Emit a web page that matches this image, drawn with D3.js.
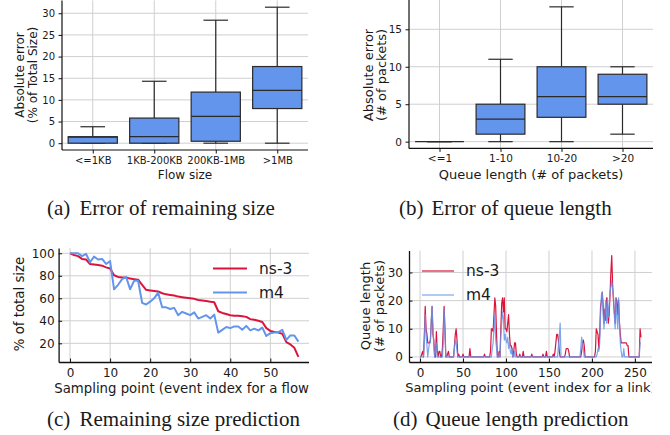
<!DOCTYPE html>
<html><head><meta charset="utf-8">
<script src="https://cdn.jsdelivr.net/npm/d3@7"></script>
<style>
body{margin:0;background:#fff;}
svg{display:block;}
text{font-family:"DejaVu Sans",sans-serif;fill:#1a1a1a;}
.cap{font-family:"Liberation Serif","DejaVu Serif",serif;}
</style></head><body>
<svg id="chart" width="670" height="435"></svg>
<script>
// ---------- DATA ----------
const catsA = ["<=1KB","1KB-200KB","200KB-1MB",">1MB"];
const lowA  = [0, 0, 0, 0];
const q1A   = [0, 0, 0.45, 8.0];
const medA  = [1.4, 1.5, 6.2, 12.2];
const q3A   = [1.5, 5.8, 11.8, 17.7];
const highA = [3.8, 14.3, 28.4, 31.4];
const yTicksA = [0,5,10,15,20,25,30];

const catsB = ["<=1","1-10","10-20",">20"];
const lowB  = [0, 0, 0, 1];
const q1B   = [0, 1, 3.25, 5];
const medB  = [0, 3, 6, 6];
const q3B   = [0, 5, 10, 9];
const highB = [0, 11, 18, 10];
const yTicksB = [0,5,10,15];

const ns3Remain = [100,98.5,97.5,95,94.5,90.5,90,89.5,89,87.5,86.5,80.5,79,78.5,78.5,77.5,77,76.5,72,67.5,
  67,66.5,66,64.5,63.5,63,62.5,61.5,61,60.5,60,59.5,58.5,58,57.5,57,56.5,48.5,47,46,
  45,44.5,44.5,44,43.5,41.5,41,40,39,33.5,31,30,29.5,28.5,21,19,16,8];
const m4Remain = [100,100,100,97.5,99.5,92,97,94.5,95,90.5,93,68,72,77,79,68,75.5,75.5,56,54.5,
  57,60,65,52,52,50.5,51.5,45,48,46.5,45,47.5,42,43.5,45,42,45.5,29.5,32,34.5,
  33.5,35,35,32,35.5,31.5,33,31.5,34,26.5,29,29.5,30,32,23,27,27,21.5];
const xTicksC = [0,10,20,30,40,50];
const yTicksC = [20,40,60,80,100];

const ns3Queue = [0,0,1,2,0,8,18,10,8,5, 5,5,6,12,18,8,6,0,0,9, 2,0,2,2,0,0,3,10,18,10,
  0,0,1,2,0,0,0,0,0,0, 4,8,10,6,0,1,0,0,0,0, 1,0,0,0,0,0,0,0,3,0,
  0,0,0,0,0,0,0,0,0,0, 0,0,0,0,0,1,0,0,0,0, 0,0,2,10,10,9,15,21,18,8,
  0,0,2,0,10,19,21,16,21,10, 10,9,12,15,8,4,4,3,0,2, 5,5,1,0,0,0,1,0,0,0,
  2,0,0,0,0,0,0,0,0,0, 1,0,0,0,0,0,0,0,0,0, 0,0,0,1,0,0,0,2,0,0,
  0,0,0,0,0,1,0,2,5,8, 8,6,2,0,0,0,0,0,0,1, 3,3,3,2,0,0,0,0,0,0,
  0,0,0,0,0,0,0,0,2,5, 6,4,0,0,0,0,0,0,0,0, 0,0,0,0,2,10,9,8,3,8,
  18,20,23,18,12,17,13,21,18,12, 15,22,30,36,26,20,16,12,21,20, 15,20,12,8,5,5,5,5,5,5,
  5,4,4,0,0,0,0,0,0,0, 0,0,0,0,0,0,10,7];
const m4Queue = [0,0,0,0,0,5,15,8,4,0, 3,5,5,13,18,10,4,0,2,5, 0,0,0,0,0,0,0,5,17,8,
  0,0,0,0,0,0,0,0,0,0, 3,6,5,2,0,0,0,0,0,0, 0,0,0,0,0,0,0,0,0,0,
  0,0,0,0,0,0,0,0,0,0, 0,0,0,0,0,0,0,0,0,0, 0,0,0,0,3,5,10,15,6,3,
  0,0,1,0,8,12,16,14,6,8, 6,5,7,3,5,2,1,3,0,0, 2,0,0,0,0,0,0,0,0,0,
  0,0,0,0,0,0,0,0,0,0, 0,0,0,0,0,0,0,0,0,0, 0,0,0,0,0,0,0,0,0,0,
  0,0,0,0,0,0,0,0,0,0, 0,4,7,12,0,0,0,0,0,0, 0,0,0,0,0,0,0,0,0,0,
  0,0,0,0,0,0,0,3,7,5, 3,0,0,0,0,0,0,0,0,0, 0,0,0,0,0,0,1,3,2,5,
  15,22,23,15,10,15,20,12,21,14, 18,23,25,27,24,22,15,10,21,14, 10,21,12,5,2,0,0,3,0,0,
  0,0,0,0,0,0,0,0,0,0, 0,0,0,0,0,0,5,5];
const xTicksD = [0,50,100,150,200,250];
const yTicksD = [0,10,20,30];

const captions = ["(a)","Error of remaining size","(b)","Error of queue length",
                  "(c)","Remaining size prediction","(d)","Queue length prediction"];

// ---------- DRAW ----------
const svg = d3.select("#chart");
const RED = "#DC143C", BLUE = "#6495ED", GRID = "#cfcfcf", EDGE = "#2a2a2a";

function boxPanel(o){
  const g = svg.append("g");
  const x = d3.scaleLinear().domain([0.5, 4.5]).range([o.x0, o.x1]);
  const y = d3.scaleLinear().domain(o.yd).range([o.y1, o.y0]);
  const idx = o.cats.map((c,i)=>i+1);
  g.append("g").selectAll("line").data(o.yt).join("line")
    .attr("x1",o.x0).attr("x2",o.x1).attr("y1",d=>y(d)).attr("y2",d=>y(d))
    .attr("stroke",GRID).attr("stroke-width",1);
  g.append("g").selectAll("line").data(idx).join("line")
    .attr("x1",d=>x(d)).attr("x2",d=>x(d)).attr("y1",o.y0).attr("y2",o.y1)
    .attr("stroke",GRID).attr("stroke-width",1);
  const bw = 0.4, cw = 0.2;
  idx.forEach((d,i)=>{
    const b = g.append("g").attr("stroke",EDGE).attr("stroke-width",1.2);
    b.append("line").attr("x1",x(d)).attr("x2",x(d)).attr("y1",y(o.high[i])).attr("y2",y(o.q3[i]));
    b.append("line").attr("x1",x(d)).attr("x2",x(d)).attr("y1",y(o.q1[i])).attr("y2",y(o.low[i]));
    b.append("line").attr("x1",x(d-cw)).attr("x2",x(d+cw)).attr("y1",y(o.high[i])).attr("y2",y(o.high[i]));
    b.append("line").attr("x1",x(d-cw)).attr("x2",x(d+cw)).attr("y1",y(o.low[i])).attr("y2",y(o.low[i]));
    b.append("rect").attr("x",x(d-bw)).attr("width",x(d+bw)-x(d-bw))
      .attr("y",y(o.q3[i])).attr("height",Math.max(0,y(o.q1[i])-y(o.q3[i])))
      .attr("fill",BLUE);
    b.append("line").attr("x1",x(d-bw)).attr("x2",x(d+bw)).attr("y1",y(o.med[i])).attr("y2",y(o.med[i]));
  });
  const ax = d3.axisBottom(x).tickValues(idx).tickFormat((d,i)=>o.cats[i]).tickSize(3.5).tickPadding(3);
  const ay = d3.axisLeft(y).tickValues(o.yt).tickSize(3.5).tickPadding(3.5);
  const gx = g.append("g").attr("transform",`translate(0,${o.y1})`).call(ax);
  const gy = g.append("g").attr("transform",`translate(${o.x0},0)`).call(ay);
  [gx,gy].forEach(a=>{
    a.select(".domain").attr("stroke","#111").attr("stroke-width",1.2);
    a.selectAll(".tick line").attr("stroke","#111");
    a.selectAll("text").style("font-family","DejaVu Sans").style("font-size",o.tf+"px").attr("fill","#1a1a1a");
  });
  gx.select(".domain").attr("d",`M${o.x0},0H${o.x1}`);
  gy.select(".domain").attr("d",`M0,${o.y1}V${o.y0}`);
  g.append("text").attr("x",(o.x0+o.x1)/2).attr("y",o.xly).attr("text-anchor","middle")
    .style("font-size",o.lf+"px").text(o.xl);
  o.yl.forEach((t,k)=>{
    g.append("text").attr("transform",`translate(${o.ylx[k]},${o.yly}) rotate(-90)`)
      .attr("text-anchor","middle").attr("dominant-baseline","central")
      .style("font-size",o.lf+"px").text(t);
  });
}

boxPanel({cats:catsA, low:lowA,q1:q1A,med:medA,q3:q3A,high:highA, yt:yTicksA,
  x0:62,x1:308,y0:0.4,y1:150,yd:[-1.57,32.97], tf:10, lf:12,
  xl:"Flow size", xly:179, yl:["Absolute error","(% of Total Size)"], ylx:[20,33], yly:75});
boxPanel({cats:catsB, low:lowB,q1:q1B,med:medB,q3:q3B,high:highB, yt:yTicksB,
  x0:409,x1:653,y0:0.1,y1:148.4,yd:[-0.9,18.9], tf:10.5, lf:13,
  xl:"Queue length (# of packets)", xly:178.5, yl:["Absolute error","(# of packets)"], ylx:[368,381], yly:75});

function linePanel(o){
  const clipId = "clip"+o.id;
  svg.append("clipPath").attr("id",clipId).append("rect")
    .attr("x",o.cx0).attr("y",0).attr("width",o.cx1-o.cx0).attr("height",435);
  const g = svg.append("g").attr("clip-path",`url(#${clipId})`);
  const x = d3.scaleLinear().domain(o.xd).range([o.x0,o.x1]);
  const y = d3.scaleLinear().domain(o.yd).range([o.y1,o.y0]);
  g.append("g").selectAll("line").data(o.yt).join("line")
    .attr("x1",o.x0).attr("x2",o.x1).attr("y1",d=>y(d)).attr("y2",d=>y(d))
    .attr("stroke",GRID).attr("stroke-width",1);
  g.append("g").selectAll("line").data(o.xt).join("line")
    .attr("x1",d=>x(d)).attr("x2",d=>x(d)).attr("y1",o.y0).attr("y2",o.y1)
    .attr("stroke",GRID).attr("stroke-width",1);
  const line = d3.line().x((d,i)=>x(i)).y(d=>y(d));
  g.append("path").datum(o.s1).attr("d",line).attr("fill","none")
    .attr("stroke",RED).attr("stroke-width",o.lw).attr("stroke-linejoin","round");
  g.append("path").datum(o.s2).attr("d",line).attr("fill","none")
    .attr("stroke",BLUE).attr("stroke-width",o.lw).attr("stroke-opacity",o.op).attr("stroke-linejoin","round");
  const ax = d3.axisBottom(x).tickValues(o.xt).tickSizeInner(-3.5).tickSizeOuter(0).tickPadding(6);
  const ay = d3.axisLeft(y).tickValues(o.yt).tickSizeInner(-3.5).tickSizeOuter(0).tickPadding(o.ypad);
  const gx = g.append("g").attr("transform",`translate(0,${o.y1})`).call(ax);
  const gy = g.append("g").attr("transform",`translate(${o.x0},0)`).call(ay);
  [gx,gy].forEach(a=>{
    a.select(".domain").attr("stroke","#111").attr("stroke-width",1.3);
    a.selectAll(".tick line").attr("stroke","#111");
    a.selectAll("text").style("font-family","DejaVu Sans").style("font-size",o.tf+"px").attr("fill","#1a1a1a");
  });
  g.append("text").attr("x",(o.x0+o.x1)/2).attr("y",o.xly).attr("text-anchor","middle")
    .attr("dominant-baseline","central").style("font-size",o.lf+"px").text(o.xl);
  o.yl.forEach((t,k)=>{
    g.append("text").attr("transform",`translate(${o.ylx[k]},${o.yly}) rotate(-90)`)
      .attr("text-anchor","middle").attr("dominant-baseline","central")
      .style("font-size",o.lf+"px").text(t);
  });
  [["ns-3",RED,1],["m4",BLUE,o.op]].forEach((l,k)=>{
    const ly = o.legY[k];
    g.append("line").attr("x1",o.legX[0]).attr("x2",o.legX[1]).attr("y1",ly).attr("y2",ly)
      .attr("stroke",l[1]).attr("stroke-width",o.lw).attr("stroke-opacity",l[2]);
    g.append("text").attr("x",o.legX[2]).attr("y",ly).attr("dominant-baseline","central")
      .style("font-size",o.legF+"px").text(l[0]);
  });
}

linePanel({id:"c", s1:ns3Remain, s2:m4Remain, xt:xTicksC, yt:yTicksC, cx0:0, cx1:309,
  x0:58.6,x1:309.8,y0:248.1,y1:362,xd:[-2.85,59.85],yd:[3.4,104.6], lw:2, op:1,
  tf:12, lf:13.3, ypad:4, xl:"Sampling point (event index for a flow)", xly:388.5,
  yl:["% of total size"], ylx:[19], yly:304, legX:[213,247,259], legY:[268.5,292.5], legF:15.5});
linePanel({id:"d", s1:ns3Queue, s2:m4Queue, xt:xTicksD, yt:yTicksD, cx0:335, cx1:652,
  x0:409,x1:652,y0:250.5,y1:362,xd:[-12.85,269.85],yd:[-1.8,37.8], lw:1.2, op:0.85,
  tf:12, lf:13, ypad:6, xl:"Sampling point (event index for a link)", xly:387.5,
  yl:["Queue length","(# of packets)"], ylx:[365,379], yly:306, legX:[422,454,466], legY:[271,295], legF:15.5});

const capPos = [[47,214.5],[399,214.5],[47,426],[393,426]];
capPos.forEach((p,k)=>{
  svg.append("text").attr("class","cap").attr("x",p[0]).attr("y",p[1])
    .style("font-size","21px").text(captions[2*k]);
  svg.append("text").attr("class","cap").attr("x",p[0]+32.5).attr("y",p[1])
    .style("font-size","21px").text(captions[2*k+1]);
});
</script>
</body></html>
